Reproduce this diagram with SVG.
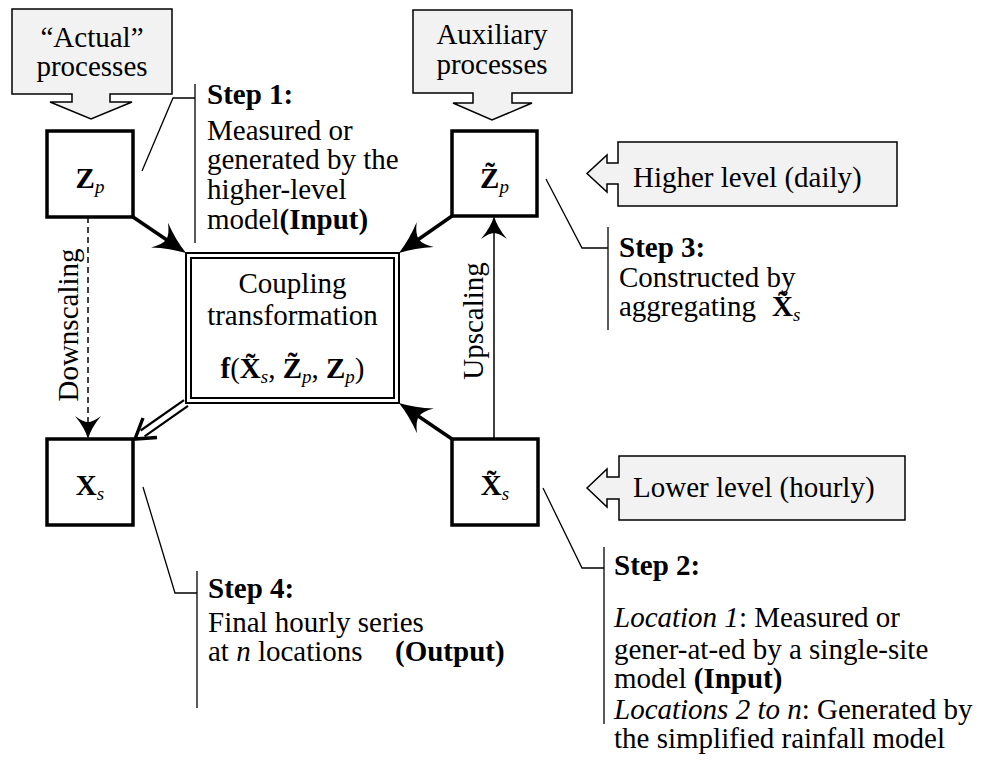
<svg xmlns="http://www.w3.org/2000/svg" width="989" height="767" viewBox="0 0 989 767">
<style>
text{font-family:"Liberation Serif","Times New Roman",serif;font-size:29px;fill:#000}
.b{font-weight:bold}
.i{font-style:italic}
.sub{font-style:italic;font-size:19px}
.callout{fill:#f2f2f2;stroke:#000;stroke-width:1.5}
.node{fill:#fff;stroke:#000;stroke-width:3.5}
.lead{fill:none;stroke:#000;stroke-width:1.3}
.thick{fill:none;stroke:#000;stroke-width:3.5}
.thin{fill:none;stroke:#000;stroke-width:1.5}
</style>
<defs>
<marker id="bigHead" markerUnits="userSpaceOnUse" viewBox="-14 -16 36 32" markerWidth="36" markerHeight="32" refX="0" refY="0" orient="auto">
<path d="M20 0 Q4 -5 -12 -15 Q-4 -6 -4 0 Q-4 6 -12 15 Q4 5 20 0 Z" fill="#000"/>
</marker>
<marker id="thinHead" markerUnits="userSpaceOnUse" viewBox="-10 -14 27 28" markerWidth="27" markerHeight="28" refX="0" refY="0" orient="auto">
<path d="M15 0 Q4 -3 -8 -13 Q-2 -5 -2 0 Q-2 5 -8 13 Q4 3 15 0 Z" fill="#000"/>
</marker>
</defs>

<g id="callout-actual">
<path class="callout" d="M12 9 H172 V94 H110 V102 H132 L91 119 L50 102 H72 V94 H12 Z"/>
<text x="92" y="47" text-anchor="middle">“Actual”</text>
<text x="92" y="76" text-anchor="middle">processes</text>
</g>
<g id="callout-auxiliary">
<path class="callout" d="M413 10 H572 V93 H512 V103 H532 L492 120 L453 103 H473 V93 H413 Z"/>
<text x="492" y="44" text-anchor="middle">Auxiliary</text>
<text x="492" y="74" text-anchor="middle">processes</text>
</g>
<g id="callout-higher">
<path class="callout" d="M618 142 H897 V206 H618 V184 H607 V192 L587 173.5 L607 155 V163 H618 Z"/>
<text x="633" y="187">Higher level (daily)</text>
</g>
<g id="callout-lower">
<path class="callout" d="M619 456 H905 V520 H619 V499 H607 V507 L587 488 L607 469 V477 H619 Z"/>
<text x="633" y="497">Lower level (hourly)</text>
</g>

<g id="node-Zp">
<rect class="node" x="47" y="131" width="86" height="86"/>
<text x="90" y="188" text-anchor="middle"><tspan class="b">Z</tspan><tspan class="sub" dy="5">p</tspan></text>
</g>
<g id="node-Zp-tilde">
<rect class="node" x="452" y="131" width="85" height="85"/>
<text x="494.5" y="188" text-anchor="middle"><tspan class="b">Z̃</tspan><tspan class="sub" dy="5">p</tspan></text>
</g>
<g id="node-Xs">
<rect class="node" x="47" y="439" width="86" height="86"/>
<text x="90" y="495" text-anchor="middle"><tspan class="b">X</tspan><tspan class="sub" dy="5">s</tspan></text>
</g>
<g id="node-Xs-tilde">
<rect class="node" x="452" y="439" width="86" height="86"/>
<text x="495" y="495" text-anchor="middle"><tspan class="b">X̃</tspan><tspan class="sub" dy="5">s</tspan></text>
</g>
<g id="node-coupling">
<rect x="186" y="253" width="213" height="150" fill="#fff" stroke="#000" stroke-width="2"/>
<rect x="191" y="258" width="203" height="140" fill="none" stroke="#000" stroke-width="2"/>
<text x="292.5" y="293" text-anchor="middle">Coupling</text>
<text x="292.5" y="325" text-anchor="middle">transformation</text>
<text x="292.5" y="378" text-anchor="middle"><tspan class="b">f</tspan>(<tspan class="b">X̃</tspan><tspan class="sub" dy="5">s</tspan><tspan dy="-5">, </tspan><tspan class="b">Z̃</tspan><tspan class="sub" dy="5">p</tspan><tspan dy="-5">, </tspan><tspan class="b">Z</tspan><tspan class="sub" dy="5">p</tspan><tspan dy="-5">)</tspan></text>
</g>

<g id="connectors">
<line class="thick" x1="133" y1="217" x2="169.5" y2="241.8" marker-end="url(#bigHead)"/>
<line class="thick" x1="452" y1="216" x2="415.4" y2="241.5" marker-end="url(#bigHead)"/>
<line class="thick" x1="452" y1="439" x2="415.5" y2="414.2" marker-end="url(#bigHead)"/>
<g id="double-arrow" fill="none" stroke="#000" stroke-width="2.2">
<line x1="188" y1="405.9" x2="144.6" y2="436.3"/>
<line x1="184" y1="400.1" x2="140.6" y2="430.5"/>
<path d="M157 437.5 L135 439 L143 418" stroke-width="3.4" stroke-linejoin="miter"/>
</g>
<line class="thin" x1="88" y1="217" x2="88" y2="424" stroke-dasharray="6 4" marker-end="url(#thinHead)"/>
<line class="thin" x1="494" y1="439" x2="494" y2="231" marker-end="url(#thinHead)"/>
<text transform="translate(78,325) rotate(-90)" text-anchor="middle">Downscaling</text>
<text transform="translate(483,321) rotate(-90)" text-anchor="middle">Upscaling</text>
</g>

<g id="step1">
<polyline class="lead" points="142,171 173,98 195,98"/>
<line class="lead" x1="195" y1="84" x2="195" y2="243"/>
<text x="207" y="104" class="b">Step 1:</text>
<text x="207" y="140">Measured or</text>
<text x="207" y="169">generated by the</text>
<text x="207" y="199">higher-level</text>
<text x="207" y="229">model<tspan class="b">(Input)</tspan></text>
</g>
<g id="step3">
<polyline class="lead" points="546,179 582,248 608,248"/>
<line class="lead" x1="608" y1="227" x2="608" y2="330"/>
<text x="619" y="257" class="b">Step 3:</text>
<text x="619" y="287">Constructed by</text>
<text x="619" y="316">aggregating <tspan class="b" x="772">X̃</tspan><tspan class="sub" dy="5">s</tspan></text>
</g>
<g id="step4">
<polyline class="lead" points="143,487 175,593 197,593"/>
<line class="lead" x1="197" y1="571" x2="197" y2="708"/>
<text x="208" y="598" class="b">Step 4:</text>
<text x="208" y="632">Final hourly series</text>
<text x="208" y="661">at <tspan class="i">n</tspan> locations  <tspan class="b" x="395">(Output)</tspan></text>
</g>
<g id="step2">
<polyline class="lead" points="543,488 582,568 604,568"/>
<line class="lead" x1="604" y1="547" x2="604" y2="724"/>
<text x="614" y="575" class="b">Step 2:</text>
<text x="614" y="627"><tspan class="i">Location 1</tspan>: Measured or</text>
<text x="614" y="659">gener-at-ed by a single-site</text>
<text x="614" y="688">model <tspan class="b">(Input)</tspan></text>
<text x="614" y="719"><tspan class="i">Locations 2 to n</tspan>: Generated by</text>
<text x="614" y="748">the simplified rainfall model</text>
</g>
</svg>
